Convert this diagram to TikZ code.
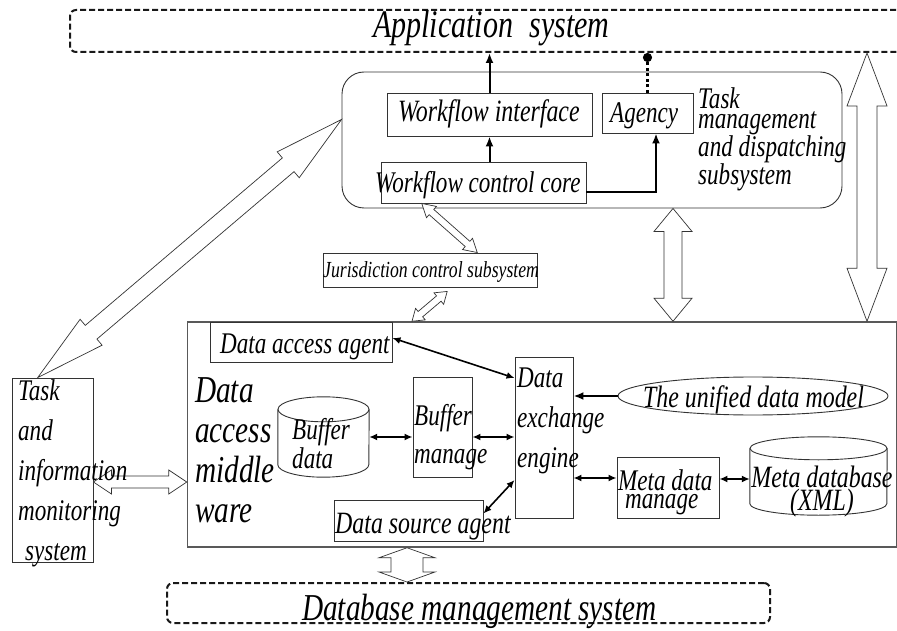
\documentclass[tikz,border=0pt]{standalone}
\usepackage{fontspec}
\setmainfont{Liberation Serif}[FakeStretch=0.77]
\usetikzlibrary{arrows.meta,calc,shapes.geometric}

\newcommand{\tam}[2]{\fontsize{#1}{#2}\selectfont\itshape}
% flecha hueca de doble punta: {inicio}{fin}{medio ancho}{medio ancho punta}{largo punta}
\newcommand{\flechahueca}[5]{%
  \path #1 coordinate (h1) #2 coordinate (h2);
  \draw[hueca] (h1) -- ($(h1)!#5!(h2)!#4!90:(h2)$) -- ($(h1)!#5!(h2)!#3!90:(h2)$)
    -- ($(h2)!#5!(h1)!#3!-90:(h1)$) -- ($(h2)!#5!(h1)!#4!-90:(h1)$) -- (h2)
    -- ($(h2)!#5!(h1)!#4!90:(h1)$) -- ($(h2)!#5!(h1)!#3!90:(h1)$)
    -- ($(h1)!#5!(h2)!#3!-90:(h2)$) -- ($(h1)!#5!(h2)!#4!-90:(h2)$) -- cycle;}
% cilindro sobre un nodo: {nodo}{radio x}{radio y}
\newcommand{\cilindro}[3]{%
  \draw[borde] ($(#1.north west)+(0,#3)$) -- ($(#1.south west)+(0,-#3)$)
    arc[start angle=180, end angle=0, x radius=#2, y radius=#3]
    -- ($(#1.north east)+(0,#3)$);
  \draw[borde] ($(#1.north)+(0,#3)$) ellipse [x radius=#2, y radius=#3];}

\begin{document}
\begin{tikzpicture}[x=1pt, y=-1pt,
    borde/.style={draw=black!80, line width=0.9pt},
    caja/.style={borde, rectangle, inner sep=0pt},
    hueco/.style={rectangle, inner sep=0pt},
    punteada/.style={draw=black!90, line width=2pt, dash pattern=on 6pt off 3pt,
      rounded corners=6pt, rectangle, inner sep=0pt},
    texto/.style={inner sep=0pt, anchor=base west, align=left},
    flecha/.style={line width=2pt, -{Latex[length=10pt,width=8pt]}},
    doble/.style={line width=1.6pt, {Latex[length=8pt,width=7pt]}-{Latex[length=8pt,width=7pt]}},
    hueca/.style={draw=black!80, fill=white, line width=0.7pt, line join=miter}]

  \fill[white] (0,0) rectangle (897,631);
  \useasboundingbox (0,0) rectangle (897,631);

  %% ============================ Application system =========================
  \node[punteada, minimum width=850pt, minimum height=42pt] (apl) at (495,31) {};
  \node[texto, font=\tam{39}{40}] (tapl) at (373,38) {Application\hspace{16pt}system};

  %% ========================== Task management ==============================
  \node[caja, rounded corners=22pt, minimum width=500pt, minimum height=136pt] (tm) at (592,140) {};
  \node[caja, minimum width=205pt, minimum height=43pt] (wi) at (489.5,114.5) {};
  \node[texto, font=\tam{31}{40}] (twi) at (398,122) {Workflow interface};
  \node[caja, minimum width=91pt, minimum height=40pt] (ag) at (647.5,113) {};
  \node[texto, font=\tam{30}{40}] (tag) at (610,123) {Agency};
  \node[caja, minimum width=205pt, minimum height=41pt] (core) at (483.5,182.5) {};
  \node[texto, font=\tam{30}{40}] (tcore) at (375,193) {Workflow control core};
  \node[texto, font=\tam{30}{20}] (ttm) at (698,185) {Task\\management\\and dispatching\\subsystem};

  \draw[flecha] (wi.north) -- (wi.north |- apl.south);
  \draw[flecha] (core.north -| wi.south) -- (wi.south);
  \draw[flecha] ($(core.east)+(0,9.5)$) -| ($(ag.south)+(8.5,0)$);
  \draw[line width=2.2pt, dash pattern=on 3pt off 2.5pt, -{Circle[length=9pt]}]
    (ag.north) -- (ag.north |- apl.south);

  %% ======================== Jurisdiction control ===========================
  \node[caja, minimum width=214pt, minimum height=34pt] (jur) at (430,270) {};
  \node[texto, font=\tam{23}{30}] (tjur) at (323,277) {Jurisdiction control subsystem};

  %% ======================= Data access middle ware =========================
  \node[caja, line width=1.5pt, draw=black!65, minimum width=709pt, minimum height=225pt] (mw) at (542,434.5) {};
  \node[caja, minimum width=182pt, minimum height=40pt] (daa) at (301,342) {};
  \node[texto, font=\tam{30}{40}] (tdaa) at (220,353) {Data access agent};
  \node[texto, font=\tam{38}{40}] (tmw) at (195,522) {Data\\access\\middle\\ware};

  \node[hueco, minimum width=91pt, minimum height=80pt] (bd) at (323.5,437) {};
  \cilindro{bd}{45.5}{12.5}
  \node[texto, font=\tam{30}{20}] (tbd) at (292,468) {Buffer\\data};
  \node[caja, minimum width=59pt, minimum height=100pt] (bm) at (442.5,427) {};
  \node[texto, font=\tam{30}{38}] (tbm) at (414,463) {Buffer\\manage};
  \node[caja, minimum width=58pt, minimum height=161pt] (dxe) at (544,437.5) {};
  \node[texto, font=\tam{30}{40}] (tdxe) at (517,467) {Data\\exchange\\engine};

  \node[ellipse, borde, minimum width=270pt, minimum height=38pt, inner sep=0pt] (udm) at (753,396) {};
  \node[texto, font=\tam{31}{40}] (tudm) at (643,407) {The unified data model};
  \node[caja, minimum width=102pt, minimum height=61pt] (mdm) at (668,487.5) {};
  \node[texto, font=\tam{30}{18}] (tmdm) at (618,508) {Meta data\\\hspace*{7pt}manage};
  \node[hueco, minimum width=137pt, minimum height=78pt] (mdb) at (818.5,476) {};
  \cilindro{mdb}{68.5}{11.5}
  \node[texto, font=\tam{31}{20}, align=center, anchor=base] (tmdb) at (822,510) {Meta database\\(XML)};

  \node[caja, minimum width=149pt, minimum height=41pt] (dsa) at (408.5,520.5) {};
  \node[texto, font=\tam{31}{40}] (tdsa) at (335,533) {Data source agent};

  \draw[doble] (bd.east) -- (bd.east -| bm.west);
  \draw[doble] (bm.east |- bd.east) -- (dxe.west |- bd.east);
  \draw[doble] ($(daa.east)+(0,-4)$) -- ($(dxe.west)+(0,-59.5)$);
  \draw[flecha] (udm.west) -- (udm.west -| dxe.east);
  \draw[doble] (dxe.east |- 0,478) -- (mdm.west |- 0,478);
  \draw[doble] (mdm.east |- 0,479) -- (mdb.west |- 0,479);
  \draw[doble] ($(dsa.east)+(0,-7)$) -- ($(dxe.west)+(0,42.5)$);

  %% ====================== Database management system =======================
  \node[punteada, minimum width=603pt, minimum height=40pt] (dbm) at (468.5,603) {};
  \node[texto, font=\tam{38}{40}] (tdbm) at (302,620) {Database management system};

  %% ==================== Task and information monitoring ====================
  \node[caja, minimum width=81pt, minimum height=184pt] (mon) at (52.5,470) {};

  %% ============================ hollow arrows ==============================
  \coordinate (ejeder) at (867,0);
  \flechahueca{(ejeder |- apl.south)}{(ejeder |- mw.north)}{10pt}{20pt}{53pt}
  \flechahueca{(tm.south -| 673,0)}{(mw.north -| 673,0)}{9pt}{19pt}{23pt}
  \flechahueca{($(tm.north west)!0.35!(tm.south west)$)}{($(mon.north west)!0.32!(mon.north east)$)}{9pt}{17pt}{70pt}
  \flechahueca{($(core.south west)!0.2!(core.south east)$)}{($(jur.north west)!0.72!(jur.north east)$)}{3.5pt}{7.5pt}{13pt}
  \flechahueca{($(jur.south west)!0.58!(jur.south east)+(0,4)$)}{(mw.north -| 412,0)}{3.5pt}{7.5pt}{11pt}
  \flechahueca{(mon.east |- 0,482)}{(mw.west |- 0,482)}{6pt}{12pt}{18pt}
  \flechahueca{(mw.south -| 407,0)}{(dbm.north -| 407,0)}{16pt}{28pt}{10pt}

  \node[texto, font=\tam{30}{40}] (tmon) at (18,560) {Task\\and\\information\\monitoring\\\hspace*{7pt}system};

\end{tikzpicture}
\end{document}
